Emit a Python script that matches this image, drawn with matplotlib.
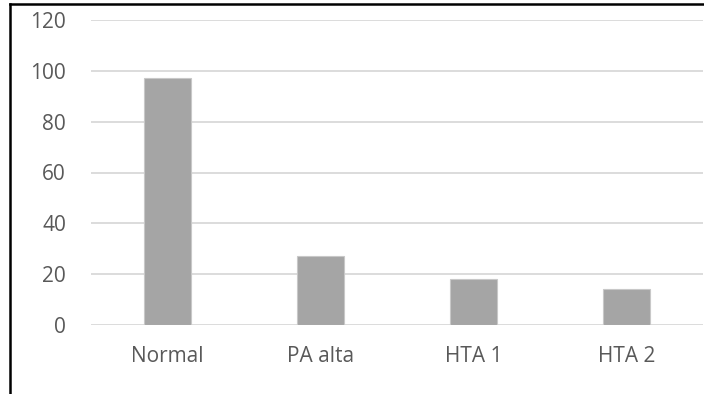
import matplotlib.pyplot as plt
from matplotlib.lines import Line2D

# Datos del gráfico
categorias = ['Normal', 'PA alta', 'HTA 1', 'HTA 2']
valores = [97, 27, 18, 14]
ticks_y = [0, 20, 40, 60, 80, 100, 120]

plt.rcParams['font.family'] = ['Open Sans', 'DejaVu Sans']

fig = plt.figure(figsize=(7.04, 3.94), dpi=100)
ax = fig.add_axes([91 / 704, 1 - 325 / 394, (703 - 91) / 704, (325 - 20) / 394])

x = range(len(categorias))
ax.bar(x, valores, width=0.31, color='#a5a5a5', edgecolor='#c8c8c8', linewidth=0.8, zorder=3)

ax.set_xlim(-0.5, len(categorias) - 0.5)
ax.set_ylim(0, 120)
ax.set_yticks(ticks_y)
ax.set_xticks(list(x))
ax.set_xticklabels(categorias)

ax.grid(axis='y', color='#d9d9d9', linewidth=1.3, zorder=0)
for s in ax.spines.values():
    s.set_visible(False)
ax.tick_params(axis='both', length=0, labelsize=15, labelcolor='#595959')
ax.tick_params(axis='y', pad=18)
ax.tick_params(axis='x', pad=15)

# Marco del gráfico (solo se ven los bordes izquierdo y superior)
fig.add_artist(Line2D([10 / 704, 10 / 704], [0, 1 - 4 / 394], color='black', linewidth=1.8,
                      transform=fig.transFigure))
fig.add_artist(Line2D([10 / 704, 1], [1 - 4 / 394, 1 - 4 / 394], color='black', linewidth=1.8,
                      transform=fig.transFigure))

fig.savefig('out.png', dpi=100)
